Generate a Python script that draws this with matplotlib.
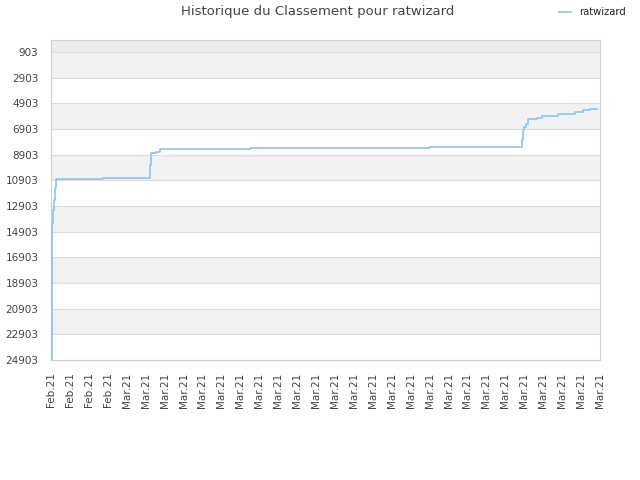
import matplotlib
matplotlib.use('Agg')
import matplotlib.pyplot as plt

# données (position en unités de graduation, rang)
step_x = [0, 0.03, 0.06, 0.11, 0.16, 0.21, 0.26, 2.75, 5.23, 5.28, 5.55, 5.76,
          10.51, 20.02, 24.88, 24.94, 24.99, 25.09, 25.2, 25.67, 25.94, 26.78,
          27.68, 28.1, 28.47, 28.82]
rank = [24903, 17496, 14224, 13211, 12432, 11498, 10796, 10695, 9706, 8747, 8670,
        8483, 8405, 8327, 7758, 6979, 6722, 6535, 6122, 6044, 5889, 5733, 5554,
        5421, 5343, 5343]
x_labels = ['Feb.21'] * 4 + ['Mar.21'] * 26
y_ticks = list(range(903, 24904, 2000))

fig = plt.figure(figsize=(6.4, 4.8), dpi=100)
ax = fig.add_axes([51 / 640, 0.25, 549 / 640, 320 / 480])

y_top = -32
ax.set_ylim(24903, y_top)
ax.set_xlim(0, len(x_labels) - 1)

# bandes alternées
ax.axhspan(y_top, y_ticks[0], color='#ececec', zorder=0, lw=0)
for i in range(len(y_ticks) - 1):
    if i % 2 == 0:
        ax.axhspan(y_ticks[i], y_ticks[i + 1], color='#f2f2f2', zorder=0, lw=0)
for t in y_ticks:
    ax.axhline(t, color='#dcdcdc', lw=0.8, zorder=1)

ax.plot(step_x, rank, drawstyle='steps-post', color='#8ec1f4', lw=1.2,
        zorder=3, label='ratwizard')

ax.set_yticks(y_ticks)
ax.set_yticklabels([str(t) for t in y_ticks])
ax.set_xticks(range(len(x_labels)))
ax.set_xticklabels(x_labels, rotation=90)
ax.tick_params(axis='both', length=0, labelsize=7.5, colors='#444444')
ax.tick_params(axis='y', pad=9)
ax.tick_params(axis='x', pad=9)

for s in ax.spines.values():
    s.set_color('#d0d0d0')
    s.set_linewidth(0.8)

fig.text(0.497, 0.975, 'Historique du Classement pour ratwizard', ha='center',
         va='center', fontsize=9.5, color='#444444')
leg = fig.legend(loc='center', bbox_to_anchor=(0.925, 0.975), frameon=False,
                 fontsize=7.2, handlelength=1.2, handletextpad=0.8)
for t in leg.get_texts():
    t.set_color('#222222')

fig.savefig('out.png', dpi=100)
